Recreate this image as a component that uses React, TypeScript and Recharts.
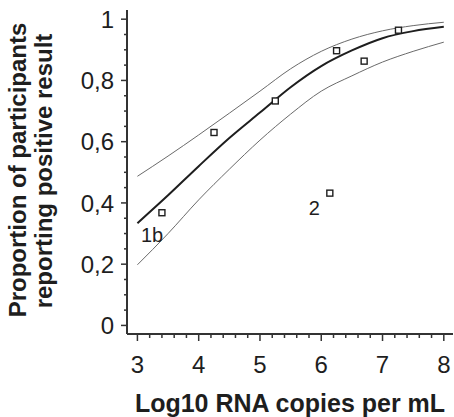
import React from "react";
import { ComposedChart, XAxis, YAxis, Line, Scatter } from "recharts";

// Fitted curve and 95% band, read at half-log steps
const curveX = [3, 3.5, 4, 4.5, 5, 5.5, 6, 6.5, 7, 7.5, 8];
const fitted = [0.334, 0.425, 0.52, 0.612, 0.695, 0.778, 0.847, 0.898, 0.938, 0.961, 0.975];
const upperBand = [0.487, 0.553, 0.622, 0.693, 0.765, 0.838, 0.895, 0.935, 0.962, 0.979, 0.99];
const lowerBand = [0.198, 0.3, 0.41, 0.51, 0.605, 0.69, 0.765, 0.815, 0.86, 0.895, 0.925];

// Observed proportions
const obsX = [3.4, 4.25, 5.25, 6.25, 6.7, 7.26, 6.14];
const obsY = [0.368, 0.63, 0.733, 0.897, 0.863, 0.964, 0.432];
const obsLabels = ["1b", "", "", "", "", "", "2"];

// Ticks
const xTicks = [3, 3.2, 3.4, 3.6, 3.8, 4, 4.2, 4.4, 4.6, 4.8, 5, 5.2, 5.4, 5.6, 5.8, 6, 6.2, 6.4, 6.6, 6.8, 7, 7.2, 7.4, 7.6, 7.8, 8];
const xMajor = [3, 4, 5, 6, 7, 8];
const yTicks = [0, 0.05, 0.1, 0.15, 0.2, 0.25, 0.3, 0.35, 0.4, 0.45, 0.5, 0.55, 0.6, 0.65, 0.7, 0.75, 0.8, 0.85, 0.9, 0.95, 1];
const yMajor = [0, 0.2, 0.4, 0.6, 0.8, 1];
const yMajorLabels = ["0", "0,2", "0,4", "0,6", "0,8", "1"];

const xTitle = "Log10 RNA copies per mL";
const yTitleLines = ["Proportion of participants", "reporting positive result"];

const curveData = curveX.map((x, i) => ({ x, fitted: fitted[i], upper: upperBand[i], lower: lowerBand[i] }));
const obsData = obsX.map((x, i) => ({ x, y: obsY[i], label: obsLabels[i] }));

const FONT = "'Liberation Sans', Arial, Helvetica, sans-serif";
const INK = "#1e1e1e";
const AXIS = "#333";

const isMajor = (v: number, list: number[]) => list.findIndex((m) => Math.abs(m - v) < 1e-6);

const XTick = (props: any) => {
  const { x, y, payload } = props;
  const idx = isMajor(payload.value, xMajor);
  const major = idx >= 0;
  return (
    <g>
      <line x1={x} x2={x} y1={y} y2={y + (major ? 7 : 4)} stroke={AXIS} strokeWidth={1.5} />
      {major && (
        <text x={x} y={y + 39} textAnchor="middle" fontFamily={FONT} fontSize={24} fill={INK}>
          {String(xMajor[idx])}
        </text>
      )}
    </g>
  );
};

const YTick = (props: any) => {
  const { x, y, payload } = props;
  const idx = isMajor(payload.value, yMajor);
  const major = idx >= 0;
  return (
    <g>
      <line x1={x - (major ? 6 : 3)} x2={x} y1={y} y2={y} stroke={AXIS} strokeWidth={1.5} />
      {major && (
        <text x={x - 13} y={y + 8.6} textAnchor="end" fontFamily={FONT} fontSize={24} fill={INK}>
          {yMajorLabels[idx]}
        </text>
      )}
    </g>
  );
};

const SquareDot = (props: any) => {
  const { cx, cy, payload } = props;
  if (cx == null || cy == null) return null;
  const label = payload && payload.label;
  return (
    <g>
      <rect x={cx - 3} y={cy - 3} width={6} height={6} fill="#fff" stroke={INK} strokeWidth={1.4} />
      {label ? (
        <text x={cx - 21} y={cy + (label === "1b" ? 29 : 22)} fontFamily={FONT} fontSize={20} fill={INK}>
          {label}
        </text>
      ) : null}
    </g>
  );
};

export default function App() {
  return (
    <div style={{ position: "absolute", left: 0, top: 0, width: 454, height: 417, background: "#fff" }}>
      <ComposedChart
        width={454}
        height={417}
        margin={{ top: 10, right: 1, left: 0, bottom: 0 }}
        data={curveData}
      >
        <XAxis
          type="number"
          dataKey="x"
          domain={[2.83, 8.15]}
          allowDataOverflow
          ticks={xTicks}
          interval={0}
          tick={<XTick />}
          tickLine={false}
          tickSize={0}
          tickMargin={0}
          height={83}
          axisLine={{ stroke: AXIS, strokeWidth: 2 }}
        />
        <YAxis
          type="number"
          domain={[-0.028, 1.03]}
          allowDataOverflow
          ticks={yTicks}
          interval={0}
          tick={<YTick />}
          tickLine={false}
          tickSize={0}
          tickMargin={0}
          width={127}
          axisLine={{ stroke: AXIS, strokeWidth: 2 }}
        />
        <Line dataKey="upper" type="monotone" stroke="#6a6a6a" strokeWidth={1} dot={false} isAnimationActive={false} />
        <Line dataKey="lower" type="monotone" stroke="#6a6a6a" strokeWidth={1} dot={false} isAnimationActive={false} />
        <Line dataKey="fitted" type="monotone" stroke={INK} strokeWidth={2} dot={false} isAnimationActive={false} />
        <Scatter data={obsData} dataKey="y" shape={<SquareDot />} isAnimationActive={false} />
      </ComposedChart>
      <svg
        width={454}
        height={417}
        style={{ position: "absolute", left: 0, top: 0, pointerEvents: "none" }}
      >
        <text x={290} y={412} textAnchor="middle" fontFamily={FONT} fontWeight="bold" fontSize={25} fill={INK}>
          {xTitle}
        </text>
        <text
          transform="translate(26,170) rotate(-90)"
          textAnchor="middle"
          fontFamily={FONT}
          fontWeight="bold"
          fontSize={24}
          fill={INK}
        >
          {yTitleLines[0]}
        </text>
        <text
          transform="translate(52,171) rotate(-90)"
          textAnchor="middle"
          fontFamily={FONT}
          fontWeight="bold"
          fontSize={24}
          fill={INK}
        >
          {yTitleLines[1]}
        </text>
      </svg>
    </div>
  );
}
